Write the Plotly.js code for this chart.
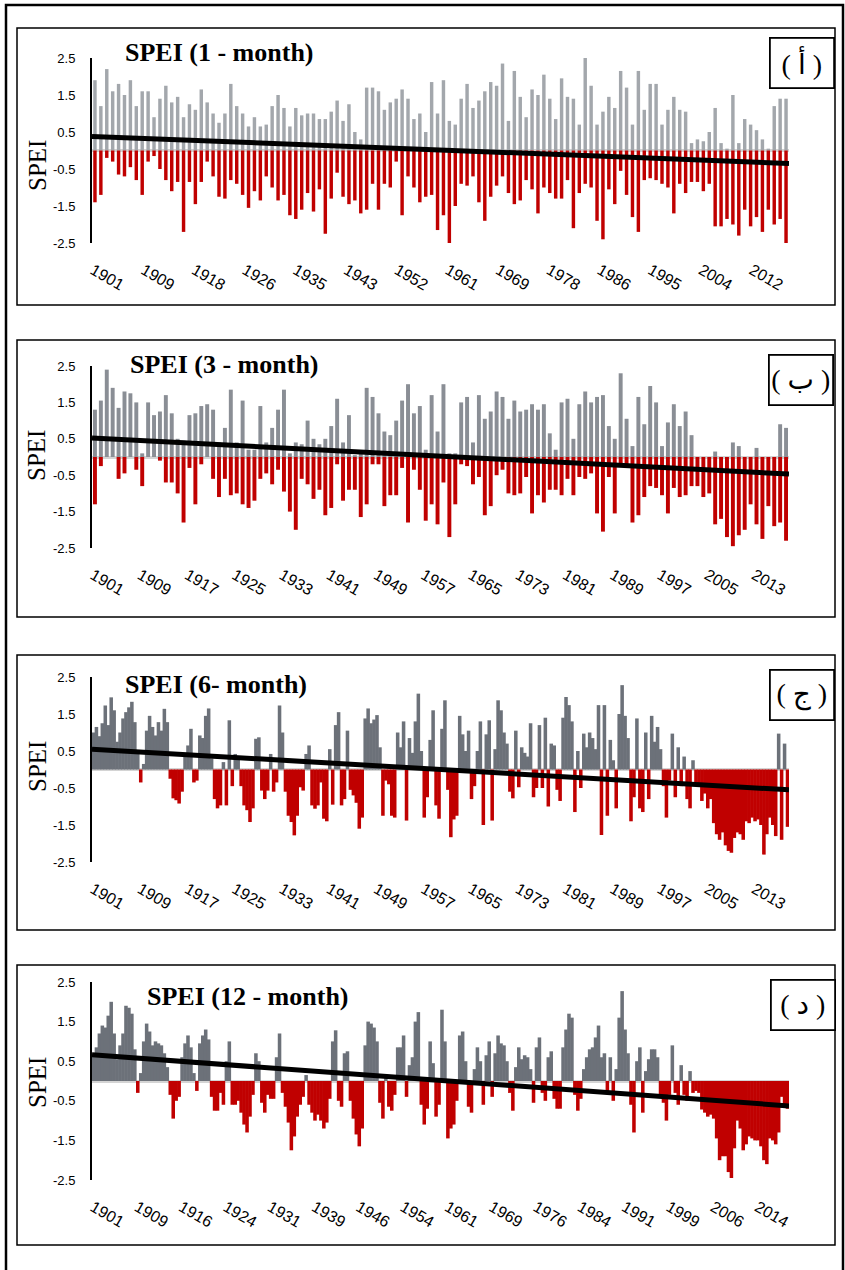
<!DOCTYPE html>
<html><head><meta charset="utf-8">
<script src="https://cdn.plot.ly/plotly-3.0.1.min.js"></script>
<style>body{margin:0;background:#fff}#chart{width:845px;height:1270px}</style>
</head><body><div id="chart"></div>
<script>
// ---- Data ----
// SPEI 1-month: yearly wet peak and dry trough, 1901-2018
const wet1=[1.9,1.2,2.2,1.6,1.8,1.5,1.9,1.2,1.6,1.6,0.9,1.4,1.75,1.3,1.45,0.9,1.25,1.1,1.65,1.3,1.0,0.75,1.0,1.8,1.2,1.0,0.65,0.9,0.65,0.7,1.2,1.5,1.15,0.65,1.15,0.95,1.0,1.0,0.85,0.85,1.05,1.35,0.8,1.25,0.5,0.3,1.7,1.7,1.6,1.1,1.3,1.4,1.65,1.4,0.85,1.0,0.5,1.85,1.0,1.9,0.8,0.7,1.4,1.8,1.15,1.35,1.6,1.85,1.75,2.35,0.8,2.15,1.45,0.9,1.65,1.5,2.05,1.4,0.85,1.95,1.45,1.4,0.7,2.5,1.75,0.7,1.05,1.45,1.15,2.15,1.7,0.7,2.15,1.1,1.8,1.8,0.7,1.1,1.45,1.1,1.05,0.2,0.3,0.25,0.5,1.15,0.2,0.05,1.5,0.2,0.85,0.7,0.55,0.3,0.05,1.2,1.4,1.4];
const dry1=[-1.4,-1.2,-0.2,-0.3,-0.65,-0.7,-0.45,-0.8,-1.2,-0.3,-0.15,-0.5,-0.8,-1.1,-0.85,-2.2,-0.85,-1.45,-0.85,-0.3,-0.7,-1.25,-1.3,-0.8,-0.9,-1.2,-1.55,-1.1,-1.35,-0.7,-1.0,-1.35,-1.2,-1.75,-1.85,-1.6,-1.15,-1.65,-1.05,-2.25,-1.3,-0.6,-1.25,-1.45,-1.35,-1.7,-1.6,-0.9,-1.6,-0.9,-1.0,-0.3,-1.75,-0.7,-1.0,-1.4,-1.25,-1.2,-2.15,-1.75,-2.55,-1.5,-0.9,-0.95,-0.7,-1.4,-1.9,-1.25,-0.95,-0.7,-1.15,-1.45,-1.35,-0.8,-1.05,-1.7,-1.0,-1.15,-1.3,-1.3,-0.8,-2.1,-1.15,-0.9,-1.0,-1.9,-2.4,-1.05,-1.45,-0.55,-1.2,-1.8,-2.2,-0.8,-0.75,-0.8,-0.9,-1.0,-1.7,-0.9,-1.15,-0.85,-0.85,-1.1,-0.9,-2.05,-2.05,-1.85,-2.0,-2.3,-1.6,-2.05,-1.8,-2.2,-1.6,-2.0,-1.85,-2.6];
// SPEI 3-month: yearly wet peak and dry trough
const wet2=[1.3,1.55,2.4,1.9,1.35,1.8,1.75,1.5,0.1,1.5,1.15,1.25,1.7,1.2,0.5,0.45,1.15,1.2,1.4,1.45,1.3,0.4,0.8,1.85,0.4,1.55,0.2,0.2,1.4,0.4,0.8,1.3,1.85,0.1,0.4,0.35,1.0,0.5,0.35,0.5,0.85,1.6,0.4,1.15,0.05,0.1,1.9,1.65,1.2,0.7,0.6,1.0,1.55,2.0,1.2,1.4,0.2,1.7,0.7,2.0,0.1,0.1,1.5,1.65,0.4,1.7,1.05,1.25,1.8,1.65,1.05,1.55,1.25,1.3,1.45,1.3,1.45,0.65,0.2,1.5,1.6,0.5,1.45,1.8,1.5,1.65,1.7,0.85,0.5,2.3,1.05,0.3,1.65,0.9,1.95,1.5,0.3,0.95,1.45,0.85,1.25,0.6,0,0,0,0.15,0,0,0.4,0.3,0,0,0.25,0,0,0,0.9,0.8];
const dry2=[-1.3,-0.25,0,0,-0.6,-0.45,0,-0.35,-0.8,0,0,-0.1,-0.7,-0.7,-1.0,-1.8,-0.3,-1.3,-0.2,0,-0.6,-1.1,-0.6,-1.05,-1.0,-1.3,-1.4,-1.2,-0.6,-0.45,-0.75,-0.35,-0.95,-1.5,-2.0,-0.6,-0.75,-1.15,-0.9,-1.6,-1.4,-0.2,-1.2,-0.9,-0.9,-1.65,-1.3,-0.2,-0.2,-1.35,-1.05,-1.05,-0.3,-1.8,-0.35,-0.9,-1.75,-1.3,-1.85,-0.7,-2.2,-1.3,-0.2,-0.25,-0.75,-0.55,-1.6,-1.35,-0.5,-0.35,-1.0,-1.05,-1.0,-0.55,-1.55,-1.05,-1.25,-0.9,-0.9,-1.05,-0.6,-1.05,-0.55,-0.6,-0.45,-1.55,-2.05,-0.55,-1.55,-0.2,-0.25,-1.8,-1.6,-1.1,-0.8,-0.85,-1.05,-1.55,-0.85,-1.1,-1.05,-0.8,-0.8,-1.1,-1.0,-1.85,-1.7,-2.2,-2.45,-2.15,-2.0,-1.3,-1.85,-2.25,-1.35,-1.9,-1.8,-2.3];
// SPEI 6-month: half-yearly values
const spei6=[1.0,1.15,0.9,1.25,1.73,1.2,1.95,1.6,0.75,1.0,
1.38,1.55,1.68,1.83,1.28,0.45,-0.35,0.15,1.05,1.45,
1.15,0.92,1.28,1.05,1.64,1.28,-0.25,-0.78,-0.83,-0.92,
-0.6,0.38,0.65,1.1,-0.35,-0.3,0.92,0.85,1.45,1.65,
0.3,-0.8,-1.05,-0.97,0.2,-0.97,1.33,-0.45,0.42,0.3,
-0.45,-0.97,-1.1,-1.42,-1.05,0.83,0.87,-0.57,-0.8,-0.57,
0.42,-0.6,-0.35,1.73,1.0,-0.6,-1.25,-1.42,-1.78,-1.25,
-0.48,-0.57,0.42,0.65,-0.97,-1.06,-0.97,-0.35,-1.33,-1.4,
0.55,-0.95,1.2,1.55,-0.97,-0.8,1.05,-0.55,-0.7,-0.9,
-1.6,-1.3,1.38,1.65,1.25,1.35,1.47,0.6,-1.25,-0.3,
-0.4,-1.25,-1.3,1.0,0.6,1.3,-1.38,0.85,0.45,1.3,
2.05,0.5,-1.3,-0.75,0.8,1.6,-0.97,-1.33,1.1,1.87,
-0.55,-1.83,-1.35,-1.25,1.45,0.95,0.5,1.05,-0.8,-0.45,
0.5,1.3,-1.5,0.95,1.33,-1.38,0.55,1.87,1.6,1.0,
0.7,-0.6,-0.78,1.05,-0.48,0.6,0.45,0.35,1.25,-0.75,
-0.5,1.2,-0.5,1.4,-1.0,0.7,0.65,-0.55,-0.85,1.4,
1.96,1.74,1.3,-1.15,0.5,-0.5,0.97,0.6,1.0,0.85,
0.55,1.74,-1.77,1.74,-1.25,0.8,0.25,-1.05,1.5,2.28,
1.45,0.85,-1.4,-0.75,1.38,-1.05,-1.15,1.0,-0.8,1.45,
0.75,1.15,0.55,-0.45,-1.3,-0.3,0.97,-0.75,0.6,-0.45,
0.35,-0.8,-1.05,0.25,-0.35,-0.45,-0.85,-0.65,-1.05,-0.8,
-1.45,-1.75,-1.9,-1.7,-2.05,-2.2,-2.25,-1.85,-1.7,-1.75,
-1.9,-1.4,-1.45,-1.3,-1.4,-1.35,-1.5,-2.3,-1.75,-1.3,
-1.5,-1.8,0.97,-1.9,0.7,-1.55];
// SPEI 12-month: half-yearly values
const spei12=[0.65,0.85,1.2,1.4,1.35,1.65,2.0,1.2,0.55,0.9,
1.2,1.9,1.85,1.7,0.8,-0.3,0.2,1.0,1.45,1.25,
0.9,1.0,0.95,0.9,0.7,0.35,-0.35,-0.95,-0.5,-0.4,
0.6,0.95,1.15,0.85,0.2,-0.25,0.95,1.15,1.3,1.05,
-0.4,-0.75,-0.75,-0.3,-0.6,0.5,1.0,-0.6,-0.6,-0.5,
-0.8,-1.1,-1.3,-0.9,-0.35,0.7,0.5,-0.55,-0.8,-0.35,
-0.45,-0.45,0.6,1.2,-0.3,-0.65,-1.05,-1.75,-1.4,-0.9,
-0.6,-0.4,0.15,-0.6,-0.8,-1.0,-0.85,-1.0,-1.2,-1.05,
-0.45,1.0,1.28,-0.5,-0.65,0.7,0.75,-0.5,-0.95,-1.35,
-1.65,-1.2,0.9,1.5,1.45,1.35,1.0,-0.55,-0.95,0.1,
-0.65,-0.75,-0.35,0.85,0.85,1.15,-0.4,0.4,0.6,1.5,
1.74,-0.6,-1.1,-0.7,1.0,0.45,-0.9,-0.6,1.8,1.0,
-1.45,-1.2,-1.1,-0.5,1.15,1.25,0.5,-0.65,-0.8,0.3,
0.85,0.5,-0.6,0.65,1.0,-0.4,0.7,1.15,0.95,0.9,
0.5,-0.3,-0.75,0.35,0.85,0.55,0.65,0.6,0.3,-0.55,
0.85,1.1,-0.3,-0.5,0.6,0.75,-0.45,-0.7,-0.7,0.85,
1.3,1.7,1.6,-0.35,-0.75,-0.45,0.3,0.6,0.8,0.85,
1.1,1.4,0.6,0.7,-0.25,0.6,-0.5,0.3,1.6,2.27,
1.3,0.7,-0.6,-1.3,0.5,0.85,-0.8,0.25,0.55,0.8,
0.8,0.6,-0.35,-0.55,-1.0,-0.35,0.9,-0.3,-0.6,0.4,
-0.35,-0.5,0.25,-0.3,-0.25,-0.3,-0.72,-0.8,-0.9,-0.85,
-0.95,-1.45,-2.0,-1.9,-1.9,-2.3,-2.45,-1.7,-1.0,-1.2,
-1.75,-1.6,-1.4,-1.45,-1.5,-1.5,-1.65,-2.0,-2.1,-1.45,
-1.5,-1.6,-1.3,-0.4,-0.6,-0.7];
// Linear trend lines (value at start, value at end)
const trendStart=[0.38,0.52,0.55,0.66];
const trendEnd=[-0.35,-0.47,-0.55,-0.63];
// Titles and labels
const titles=['SPEI (1 - month)','SPEI (3 - month)','SPEI (6- month)','SPEI (12 - month)'];
const panelTags=['( أ )','( ب )','( ج )','( د )'];
const yTitle='SPEI';
const xLabels1=['1901','1909','1918','1926','1935','1943','1952','1961','1969','1978','1986','1995','2004','2012'];
const xLabels2=['1901','1909','1917','1925','1933','1941','1949','1957','1965','1973','1981','1989','1997','2005','2013'];
const xLabels3=['1901','1909','1917','1925','1933','1941','1949','1957','1965','1973','1981','1989','1997','2005','2013'];
const xLabels4=['1901','1909','1916','1924','1931','1939','1946','1954','1961','1969','1976','1984','1991','1999','2006','2014'];
const labelStepMonths=[103,96,96,90];
const yTickVals=[-2.5,-1.5,-0.5,0.5,1.5,2.5];
const yTickText=['-2.5','-1.5','-0.5','0.5','1.5','2.5'];

// ---- Layout helpers ----
const W=845,H=1270,NM=1416;
const px=x=>x/W, py=y=>1-y/H;
const GRAY1='#a3a7ac',GRAY2='#8a8e95',GRAY='#6c7179',RED='#c00000';
const plotTop=[58,366,677,982], plotBot=[243,548,862,1180];
const frames=[[17,28,835,305],[17,340,835,617],[17,655,835,930],[17,965,835,1245]];
const titlePos=[[123,53],[128,364],[123,684],[145,996]];
const tagPos=[[802,63],[801,380],[802,695],[803,1005]];
const yTitlePos=[[37,166],[37,456],[37,767],[37,1083]];
const xLabelsAll=[xLabels1,xLabels2,xLabels3,xLabels4];
const barW=[7,8];

const traces=[];
function yearly(wet,dry,k,gcol){
  const xs=wet.map((_,i)=>12*i+6);
  const ax=k===0?'':String(k+1);
  traces.push({type:'bar',x:xs,y:wet,width:barW[k],marker:{color:gcol,line:{width:0}},xaxis:'x'+ax,yaxis:'y'+ax,hoverinfo:'skip'});
  traces.push({type:'bar',x:xs,y:dry,width:barW[k],marker:{color:RED,line:{width:0}},xaxis:'x'+ax,yaxis:'y'+ax,hoverinfo:'skip'});
}
function halfyear(vals,k){
  const xs=vals.map((_,j)=>6*j+3);
  const ax=String(k+1);
  traces.push({type:'bar',x:xs,y:vals,width:7.2,marker:{color:vals.map(v=>v>=0?GRAY:RED),line:{width:0}},xaxis:'x'+ax,yaxis:'y'+ax,hoverinfo:'skip'});
}
yearly(wet1,dry1,0,GRAY1);
yearly(wet2,dry2,1,GRAY2);
halfyear(spei6,2);
halfyear(spei12,3);
for(let k=0;k<4;k++){
  const ax=k===0?'':String(k+1);
  traces.push({type:'scatter',mode:'lines',x:[0,NM],y:[trendStart[k],trendEnd[k]],line:{color:'#000',width:5},xaxis:'x'+ax,yaxis:'y'+ax,hoverinfo:'skip'});
}

const layout={width:W,height:H,margin:{l:0,r:0,t:0,b:0},paper_bgcolor:'#fff',plot_bgcolor:'rgba(0,0,0,0)',
  showlegend:false,barmode:'overlay',shapes:[],annotations:[]};
for(let k=0;k<4;k++){
  const ax=k===0?'':String(k+1);
  const labs=xLabelsAll[k];
  layout['xaxis'+ax]={domain:[px(92),px(789)],range:[0,NM],anchor:'y'+ax,
    tickmode:'array',tickvals:labs.map((_,n)=>n*labelStepMonths[k]),ticktext:labs,
    tickangle:30,tickfont:{family:'Liberation Sans, Arial, sans-serif',size:16,color:'#000'},
    ticks:'outside',ticklen:11,tickcolor:'rgba(0,0,0,0)',ticklabelshift:1,
    showline:false,showgrid:false,zeroline:false,fixedrange:true};
  layout['yaxis'+ax]={domain:[py(plotBot[k]),py(plotTop[k])],range:[-2.5,2.5],anchor:'x'+ax,
    tickmode:'array',tickvals:yTickVals,ticktext:yTickText,
    tickfont:{family:'Liberation Sans, Arial, sans-serif',size:13,color:'#000'},
    ticks:'outside',ticklen:12,tickcolor:'rgba(0,0,0,0)',
    showline:true,linecolor:'#000',linewidth:2,showgrid:false,
    zeroline:true,zerolinecolor:'#d4d4d4',zerolinewidth:3,fixedrange:true};
  const f=frames[k];
  layout.shapes.push({type:'rect',xref:'paper',yref:'paper',x0:px(f[0]),x1:px(f[2]),y0:py(f[3]),y1:py(f[1]),line:{color:'#000',width:1.5}});
  layout.annotations.push({xref:'paper',yref:'paper',x:px(titlePos[k][0]),y:py(titlePos[k][1]),xanchor:'left',yanchor:'middle',
    text:'<b>'+titles[k]+'</b>',showarrow:false,font:{family:'Liberation Serif, Times New Roman, serif',size:26,color:'#000'}});
  layout.annotations.push({xref:'paper',yref:'paper',x:px(tagPos[k][0]),y:py(tagPos[k][1]),xanchor:'center',yanchor:'middle',
    text:panelTags[k],showarrow:false,width:58,height:44,bordercolor:'#000',borderwidth:1.8,borderpad:2,bgcolor:'#fff',
    font:{family:'Liberation Serif, DejaVu Sans, serif',size:28,color:'#000'}});
  layout.annotations.push({xref:'paper',yref:'paper',x:px(yTitlePos[k][0]),y:py(yTitlePos[k][1]),xanchor:'center',yanchor:'middle',
    text:yTitle,textangle:-90,showarrow:false,font:{family:'Liberation Serif, Times New Roman, serif',size:25,color:'#000'}});
}
// outer frame
layout.shapes.push({type:'rect',xref:'paper',yref:'paper',x0:px(6),x1:px(843),y0:py(1275),y1:py(5),line:{color:'#000',width:2.5}});

Plotly.newPlot('chart',traces,layout,{staticPlot:true,displayModeBar:false});
</script></body></html>
